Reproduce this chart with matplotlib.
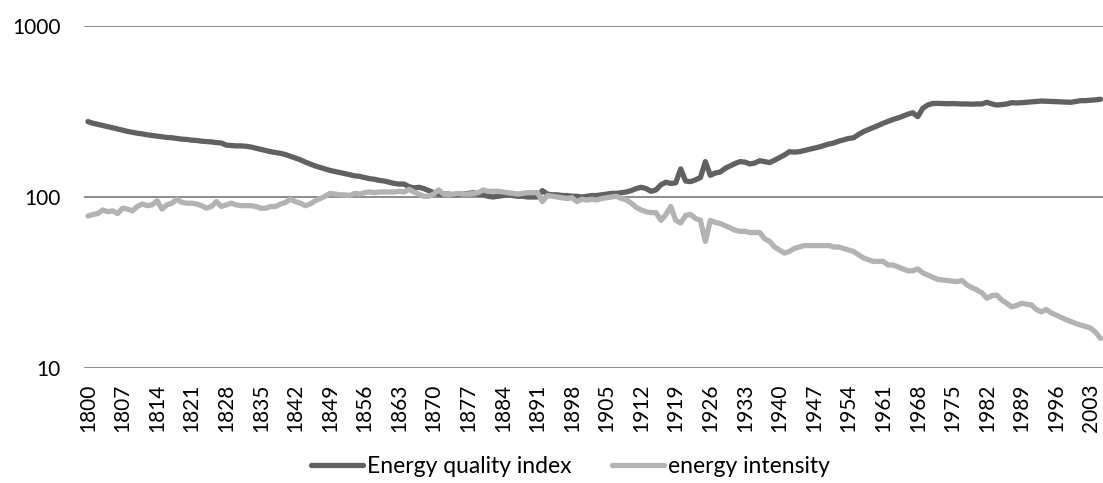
import numpy as np
import matplotlib
matplotlib.use('Agg')
from matplotlib import pyplot as plt


# data
years = np.arange(1800, 2006)

quality_index = [
    276, 270, 266, 262, 258, 254, 250, 246, 242, 239,   # 1800
    236, 234, 231, 229, 227, 225, 223, 222, 220, 218,   # 1810
    217, 215, 214, 212, 211, 210, 208, 207, 201, 200,   # 1820
    199, 199, 198, 196, 193, 190, 187, 184, 182, 180,   # 1830
    177, 173, 169, 165, 160, 156, 152, 149, 146, 143,   # 1840
    141, 139, 137, 135, 133, 132, 130, 128, 127, 125,   # 1850
    124, 122, 120, 119, 119, 115, 113, 114, 112, 109,   # 1860
    106, 104, 104, 104, 103, 104, 104, 105, 106, 104,   # 1870
    103, 101, 100, 101, 102, 103, 102, 101, 101, 100,   # 1880
    100, 100, 109, 104, 103, 103, 102, 102, 101, 101,   # 1890
    100, 101, 102, 102, 103, 104, 105, 105, 106, 107,   # 1900
    109, 112, 114, 112, 108, 110, 118, 122, 120, 121,   # 1910
    146, 124, 123, 126, 130, 161, 134, 138, 140, 147,   # 1920
    152, 157, 161, 160, 156, 158, 163, 161, 159, 164,   # 1930
    170, 176, 184, 183, 184, 187, 190, 193, 196, 200,   # 1940
    204, 207, 212, 216, 220, 222, 232, 241, 248, 255,   # 1950
    262, 270, 277, 284, 290, 297, 305, 311, 295, 330,   # 1960
    345, 352, 353, 352, 351, 352, 351, 350, 350, 349,   # 1970
    350, 350, 358, 350, 345, 347, 350, 356, 355, 356,   # 1980
    358, 360, 362, 364, 363, 362, 361, 360, 359, 358,   # 1990
    362, 366, 366, 368, 370, 373,                       # 2000
]

intensity = [
    77.4, 79, 80, 84, 82, 83, 80, 86, 85, 83,           # 1800
    88, 91, 89, 90, 95, 85, 90, 92, 97, 93,             # 1810
    92, 92, 91, 89, 86, 88, 94, 88, 90, 92,             # 1820
    90, 89, 89, 89, 88, 86, 86, 88, 88, 91,             # 1830
    93, 97, 94, 92, 89, 91, 95, 98, 101, 105,           # 1840
    104, 103, 103, 102, 105, 104, 106, 107, 106, 107,   # 1850
    107, 107, 107, 108, 107, 111, 107, 104, 101, 101,   # 1860
    104, 110, 104, 103, 104, 105, 104, 104, 105, 106,   # 1870
    110, 108, 108, 108, 107, 106, 105, 104, 105, 106,   # 1880
    106, 106, 94, 102, 101, 100, 99, 98, 99, 94,        # 1890
    97, 96, 97, 96, 98, 99, 100, 101, 98, 96,           # 1900
    92, 87, 84, 82, 81, 81, 73, 79, 88, 73,             # 1910
    70.5, 78, 79, 75, 73, 55, 73, 71, 70, 68,           # 1920
    66, 64, 63, 63, 62, 62, 62, 57, 55, 51,             # 1930
    49, 47, 48, 50, 51, 52, 52, 52, 52, 52,             # 1940
    52, 51, 51, 50, 49, 48, 46, 44, 43, 42,             # 1950
    42, 42, 40, 40, 39, 38, 37, 37, 38, 36,             # 1960
    35, 34, 33, 32.7, 32.5, 32.2, 32, 32.5, 30.5, 29.5, # 1970
    28.6, 27.5, 25.6, 26.5, 26.7, 25, 23.9, 22.8, 23.2, 23.9,  # 1980
    23.6, 23.4, 22, 21.3, 22, 21, 20.4, 19.8, 19.2, 18.7,      # 1990
    18.2, 17.8, 17.5, 17.1, 16.2, 14.9,                 # 2000
]

labels = ['Energy quality index', 'energy intensity']
colors = ['#616161', '#b3b3b3']
tick_years = np.arange(1800, 2004, 7)


# plot:
plt.rcParams['font.family'] = ['Lato', 'DejaVu Sans']
fig = plt.figure(figsize=(11.03, 4.83), dpi=100)
ax = fig.add_axes([84/1103, 1 - 368/483, 1 - 84/1103, (368 - 26)/483])

ax.plot(years, quality_index, color=colors[0], lw=3.8, label=labels[0], solid_capstyle='round')
ax.plot(years, intensity, color=colors[1], lw=3.8, label=labels[1], solid_capstyle='round')

ax.set_yscale('log')
ax.set_ylim(10, 1000)
ax.set_xlim(1799.2, 2005.5)
ax.set_yticks([10, 100, 1000])
ax.set_yticklabels(['10', '100', '1000'])
ax.yaxis.set_minor_locator(matplotlib.ticker.NullLocator())
ax.set_xticks(tick_years)
ax.set_xticklabels([str(y) for y in tick_years], rotation=90)
ax.tick_params(axis='both', length=0, labelsize=15, colors='black')
ax.tick_params(axis='y', pad=17)
ax.tick_params(axis='x', pad=11)
for s in ax.spines.values():
    s.set_visible(False)
for v in [10, 100, 1000]:
    ax.axhline(v, color='#8c8c8c', lw=1.4, zorder=0)

fig.legend(loc='lower center', bbox_to_anchor=(0.517, -0.03), ncol=2, frameon=False,
           fontsize=16.5, handlelength=2.27, handletextpad=0.17, columnspacing=1.75)

fig.savefig('out.png', dpi=100)
